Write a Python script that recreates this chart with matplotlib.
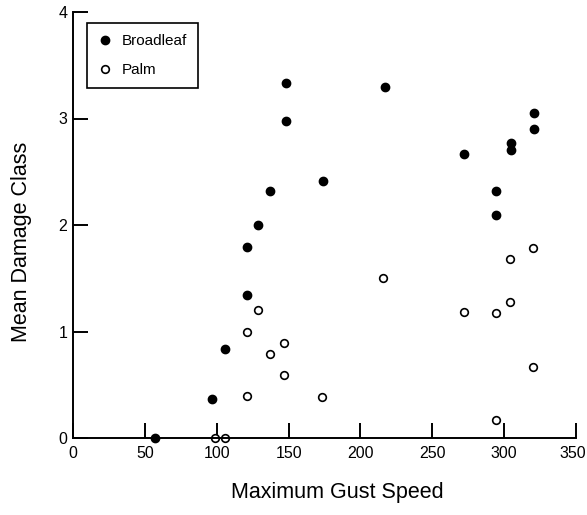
import numpy as np
import matplotlib.pyplot as plt
from matplotlib.transforms import ScaledTranslation

plt.rcParams['font.family'] = ['Liberation Sans', 'DejaVu Sans']

# values
broadleaf_x = [57, 97, 106, 121, 121, 129, 137, 148, 148, 174, 217, 272, 294, 294, 305, 305, 321, 321]
broadleaf_y = [0, 0.37, 0.84, 1.34, 1.79, 2.0, 2.32, 2.98, 3.33, 2.41, 3.30, 2.67, 2.32, 2.09, 2.77, 2.70, 2.90, 3.05]

palm_x = [99, 106, 121, 121, 129, 137, 147, 147, 173, 216, 272, 294, 294, 304, 304, 320, 320]
palm_y = [0, 0, 0.39, 1.0, 1.2, 0.79, 0.89, 0.59, 0.385, 1.5, 1.18, 1.175, 0.17, 1.28, 1.68, 1.78, 0.67]

xticks = [0, 50, 100, 150, 200, 250, 300, 350]
yticks = [0, 1, 2, 3, 4]

W, H = 587, 515
fig = plt.figure(figsize=(W / 100, H / 100), dpi=100)
ax = fig.add_axes([73 / W, (H - 438) / H, (576 - 73) / W, (438 - 12) / H])

ax.plot(broadleaf_x, broadleaf_y, 'o', color='black', markersize=6,
        clip_on=False, label='Broadleaf')
ax.plot(palm_x, palm_y, 'o', markerfacecolor='white', markeredgecolor='black',
        markeredgewidth=1.2, markersize=5.5, clip_on=False, label='Palm')

ax.set_xlim(0, 350)
ax.set_ylim(0, 4)
ax.set_xticks(xticks)
ax.set_yticks(yticks)

for s in ['top', 'right']:
    ax.spines[s].set_visible(False)
for s in ['left', 'bottom']:
    ax.spines[s].set_linewidth(1.4)

ax.tick_params(direction='in', length=11, width=1.4, labelsize=11.5, pad=4)
ax.tick_params(axis='x', pad=6)

# last x label sits at the figure edge, nudge it in a bit
last = ax.get_xticklabels()[-1]
last.set_transform(last.get_transform() + ScaledTranslation(-3 / 100, 0, fig.dpi_scale_trans))

ax.set_xlabel('Maximum Gust Speed', fontsize=15.5)
ax.set_ylabel('Mean Damage Class', fontsize=15.5)
# the scan has the titles a bit off-centre
ax.xaxis.set_label_coords(0.525, -0.103)
ax.yaxis.set_label_coords(-0.082, 0.46)

leg = ax.legend(loc='upper left', bbox_to_anchor=(87 / W, 1 - 23 / H),
                bbox_transform=fig.transFigure, borderaxespad=0,
                fontsize=11, handlelength=0.8, handletextpad=0.7,
                labelspacing=0.95, borderpad=0.75, fancybox=False,
                edgecolor='black', framealpha=1)
leg.get_frame().set_linewidth(1.2)

fig.savefig('out.png', dpi=100)
